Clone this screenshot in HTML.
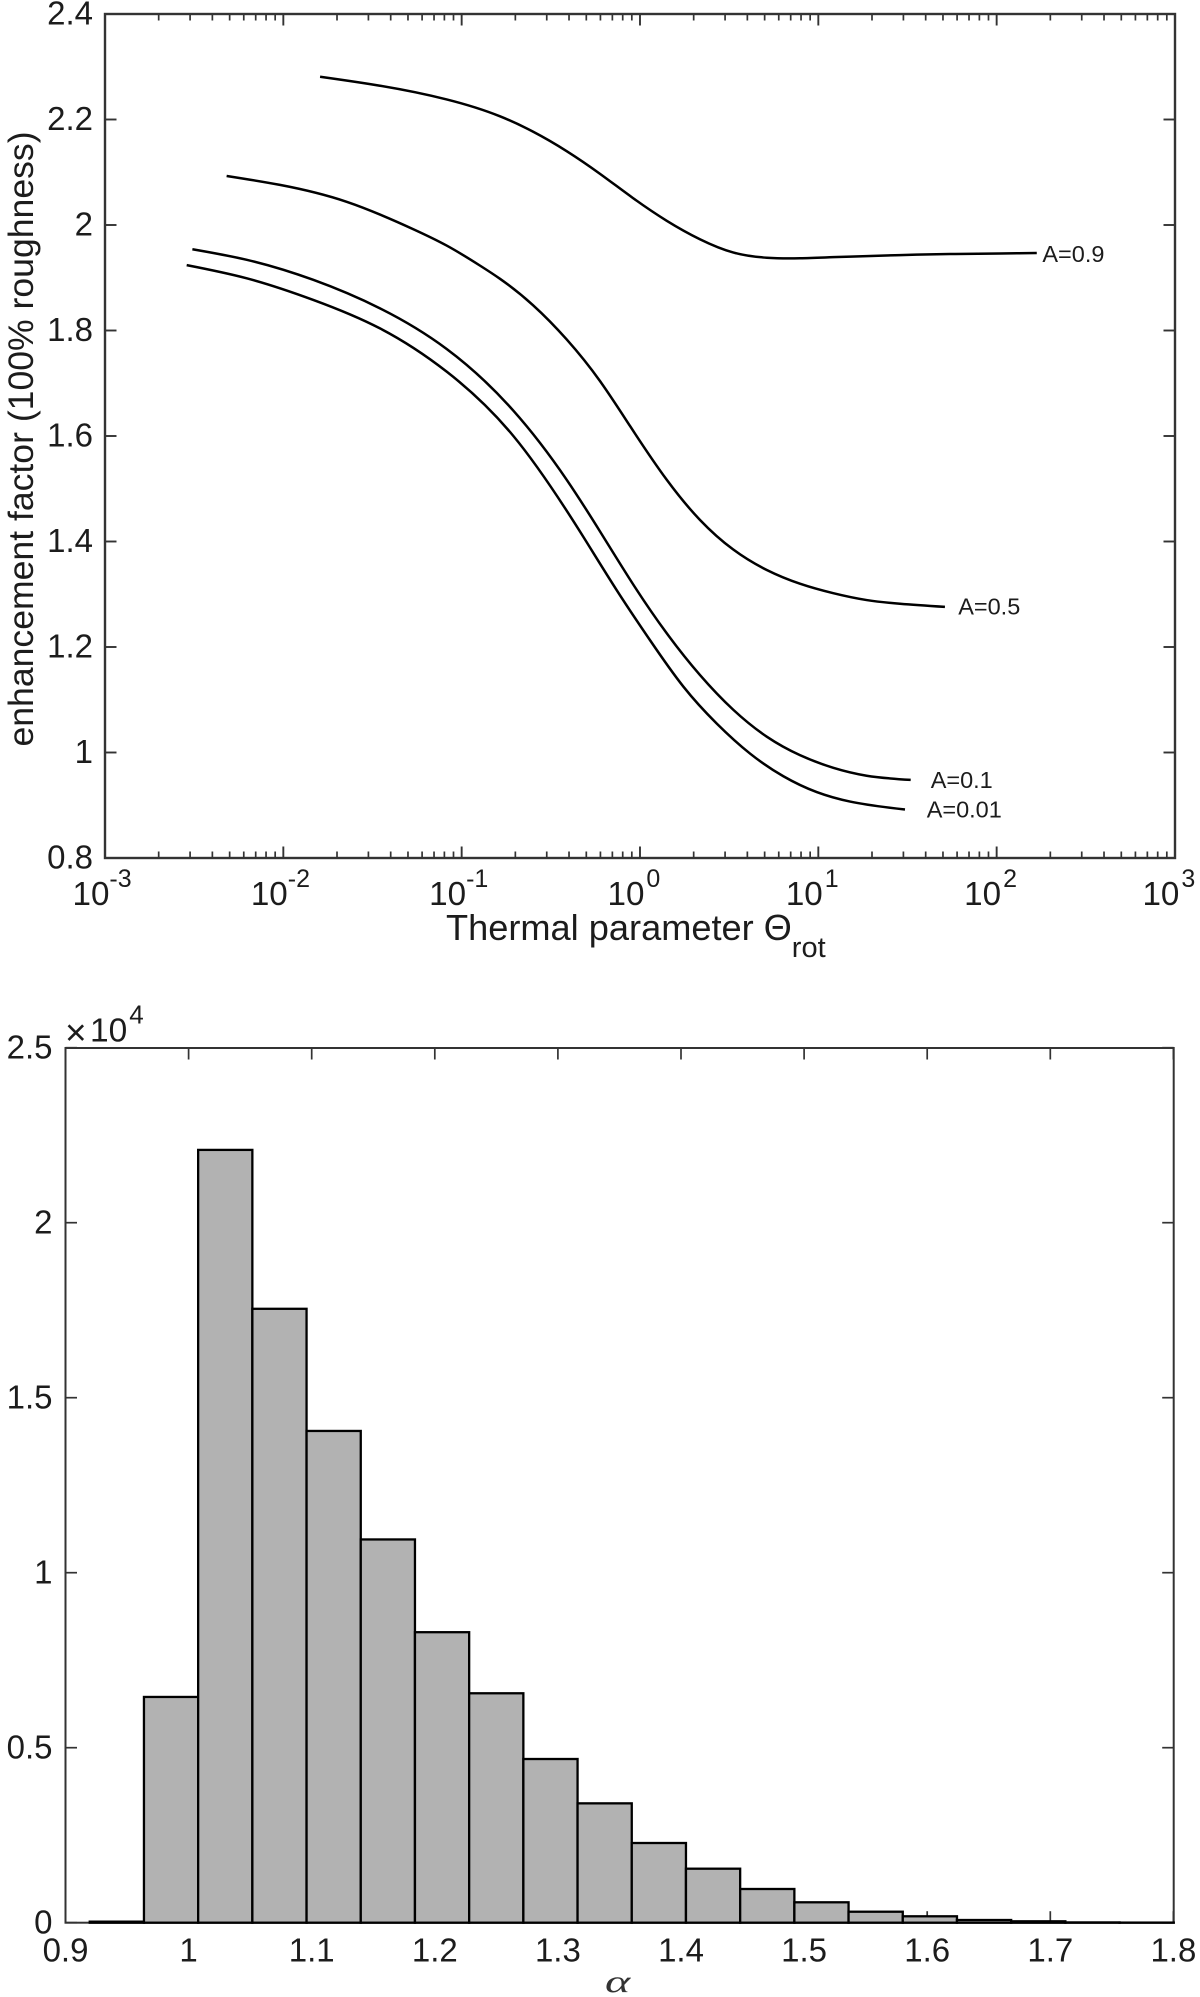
<!DOCTYPE html>
<html lang="en">
<head>
<meta charset="utf-8">
<title>Thermal parameter enhancement and alpha histogram</title>
<style>
html,body{margin:0;padding:0;background:#fff;width:1200px;height:1997px;overflow:hidden}
svg{display:block}
text{font-family:"Liberation Sans",sans-serif;fill:#1c1c1c}
</style>
</head>
<body>
<svg id="figure" xmlns="http://www.w3.org/2000/svg" width="1200" height="1997" viewBox="0 0 1200 1997">
  <rect x="0" y="0" width="1200" height="1997" fill="#fff"/>
  <g id="top-chart"></g>
  <g id="bottom-chart"></g>
  <text x="446" y="940" font-size="36.2">Thermal parameter <tspan font-size="36">Θ</tspan><tspan font-size="29" dy="17">rot</tspan></text>
  <text transform="translate(33,439) rotate(-90)" text-anchor="middle" font-size="35.6">enhancement factor (100% roughness)</text>
  <text x="65" y="1045" font-size="37">×</text>
  <text x="90" y="1041.7" font-size="33.5">10<tspan font-size="26" dy="-18" dx="2">4</tspan></text>
  <text transform="translate(605,1992) scale(1.5,1)" font-size="32" font-style="italic" style="font-family:'Liberation Serif',serif;fill:#333">α</text>
</svg>
<script>
// ---- Top chart data ----
var topXDecades = [-3, -2, -1, 0, 1, 2, 3];
var topYTicks = [0.8, 1, 1.2, 1.4, 1.6, 1.8, 2, 2.2, 2.4];
var topYLabels = ['0.8', '1', '1.2', '1.4', '1.6', '1.8', '2', '2.2', '2.4'];
var minorMultipliers = [2, 3, 4, 5, 6, 7, 8, 9];

var logThetaA09 = [-1.794, -1.458, -1.084, -0.785, -0.600, -0.411, -0.224, -0.039, 0.150, 0.336, 0.522, 0.711, 0.897, 1.082, 1.271, 1.458, 1.738, 2.019, 2.225];
var enhanceA09 = [2.281, 2.264, 2.238, 2.206, 2.177, 2.140, 2.097, 2.051, 2.008, 1.973, 1.948, 1.938, 1.937, 1.939, 1.941, 1.943, 1.945, 1.946, 1.947];

var logThetaA05 = [-2.318, -2.019, -1.645, -1.271, -1.084, -0.897, -0.785, -0.600, -0.411, -0.224, -0.056, 0.150, 0.336, 0.522, 0.711, 0.897, 1.084, 1.271, 1.458, 1.710];
var enhanceA05 = [2.093, 2.076, 2.044, 1.992, 1.961, 1.923, 1.898, 1.848, 1.783, 1.704, 1.619, 1.517, 1.441, 1.385, 1.346, 1.320, 1.302, 1.289, 1.282, 1.276];

var logThetaA01 = [-2.510, -2.205, -1.832, -1.458, -1.084, -0.710, -0.411, -0.224, -0.037, 0.150, 0.336, 0.523, 0.711, 0.897, 1.084, 1.271, 1.518];
var enhanceA01 = [1.954, 1.934, 1.896, 1.842, 1.765, 1.648, 1.517, 1.419, 1.318, 1.226, 1.147, 1.081, 1.030, 0.995, 0.971, 0.956, 0.948];

var logThetaA001 = [-2.542, -2.205, -1.832, -1.458, -1.084, -0.710, -0.318, -0.131, 0.056, 0.243, 0.430, 0.617, 0.804, 0.991, 1.178, 1.486];
var enhanceA001 = [1.924, 1.899, 1.858, 1.804, 1.722, 1.600, 1.409, 1.308, 1.213, 1.125, 1.055, 0.998, 0.955, 0.925, 0.907, 0.892];

// ---- Histogram data ----
var binStart = 0.9197;
var binWidth = 0.04403;
var binCounts = [30, 6450, 22080, 17540, 14050, 10950, 8300, 6555, 4677, 3410, 2277, 1543, 963, 583, 314, 183, 77, 40, 8, 3];
var histXTicks = [0.9, 1, 1.1, 1.2, 1.3, 1.4, 1.5, 1.6, 1.7, 1.8];
var histXLabels = ['0.9', '1', '1.1', '1.2', '1.3', '1.4', '1.5', '1.6', '1.7', '1.8'];
var histYTicks = [0, 5000, 10000, 15000, 20000, 25000];
var histYLabels = ['0', '0.5', '1', '1.5', '2', '2.5'];

// ---- Axis functions ----
function topX(logT) { return 105 + (logT + 3) * 178.33; }
function topY(v) { return 858 - (v - 0.8) * 527.5; }
function histX(a) { return 65.5 + (a - 0.9) * 1231; }
function histY(c) { return 1922.7 - c * 875 / 25000; }

var NS = 'http://www.w3.org/2000/svg';
var topG = document.getElementById('top-chart');
var botG = document.getElementById('bottom-chart');

function make(tag, parent, attrs) {
  var el = document.createElementNS(NS, tag);
  for (var k in attrs) el.setAttribute(k, attrs[k]);
  parent.appendChild(el);
  return el;
}

// Natural cubic spline through the points, emitted as Bezier segments.
function smoothPath(xs, ys) {
  var n = xs.length, M = new Array(n).fill(0), c = new Array(n).fill(0), d = new Array(n).fill(0);
  for (var i = 1; i < n - 1; i++) {
    var h0 = xs[i] - xs[i - 1], h1 = xs[i + 1] - xs[i];
    var a = h0, b = 2 * (h0 + h1);
    var r = 6 * ((ys[i + 1] - ys[i]) / h1 - (ys[i] - ys[i - 1]) / h0);
    var den = b - a * c[i - 1];
    c[i] = h1 / den;
    d[i] = (r - a * d[i - 1]) / den;
  }
  for (var j = n - 2; j > 0; j--) M[j] = d[j] - c[j] * M[j + 1];
  var path = 'M' + xs[0].toFixed(2) + ' ' + ys[0].toFixed(2);
  for (var s = 0; s < n - 1; s++) {
    var h = xs[s + 1] - xs[s], sl = (ys[s + 1] - ys[s]) / h;
    var m0 = sl - h * (2 * M[s] + M[s + 1]) / 6;
    var m1 = sl + h * (M[s] + 2 * M[s + 1]) / 6;
    path += 'C' + (xs[s] + h / 3).toFixed(2) + ' ' + (ys[s] + m0 * h / 3).toFixed(2) + ' ' +
      (xs[s + 1] - h / 3).toFixed(2) + ' ' + (ys[s + 1] - m1 * h / 3).toFixed(2) + ' ' +
      xs[s + 1].toFixed(2) + ' ' + ys[s + 1].toFixed(2);
  }
  return path;
}

// ---- Top chart: ticks ----
var AX = '#333';
topXDecades.forEach(function (dec, i) {
  var x = topX(dec);
  var tb = make('line', topG, {x1: x, x2: x, y1: 858, y2: 846.5, stroke: AX, 'stroke-width': 1.9});
  
  
  var tt = make('line', topG, {x1: x, x2: x, y1: 14, y2: 25.5, stroke: AX, 'stroke-width': 1.9});
  
  
  var label = make('text', topG, {x: x - 32.5, y: 904.8, 'font-size': 33.2});
  
  
  label.appendChild(document.createTextNode('10'));
  var exp = make('tspan', label, {'font-size': 25, dy: -18, dx: dec < 0 ? 0 : 2});
  
  
  exp.textContent = String(dec);
  if (i < topXDecades.length - 1) {
    minorMultipliers.forEach(function (m) {
      var mx = topX(dec + Math.log10(m));
      var mb = make('line', topG, {x1: mx, x2: mx, y1: 858, y2: 851.5, stroke: AX, 'stroke-width': 1.7});
      
      
      var mt = make('line', topG, {x1: mx, x2: mx, y1: 14, y2: 20.5, stroke: AX, 'stroke-width': 1.7});
      
      
    });
  }
});
topYTicks.forEach(function (v, i) {
  var y = topY(v);
  var tl = make('line', topG, {x1: 105, x2: 116.5, y1: y, y2: y, stroke: AX, 'stroke-width': 1.9});
  
  
  var tr = make('line', topG, {x1: 1175, x2: 1163.5, y1: y, y2: y, stroke: AX, 'stroke-width': 1.9});
  
  
  var label = make('text', topG, {x: 93, y: y + 10.5, 'font-size': 33, 'text-anchor': 'end'});
  
  
  label.textContent = topYLabels[i];
});
var topFrame = make('rect', topG, {x: 105, y: 14, width: 1070, height: 844, fill: 'none', stroke: AX, 'stroke-width': 2.4});



// ---- Top chart: curves ----
function drawCurve(logs, vals) {
  var path = make('path', topG, {d: smoothPath(logs.map(topX), vals.map(topY)), fill: 'none', stroke: '#000', 'stroke-width': 2.5});
  return path;
}
function endLabel(logs, vals, text, dx, dy) {
  var last = logs.length - 1;
  var t = make('text', topG, {x: topX(logs[last]) + dx, y: topY(vals[last]) + dy, 'font-size': 23.5});
  t.textContent = text;
  return t;
}
var curve09 = drawCurve(logThetaA09, enhanceA09);


var curve05 = drawCurve(logThetaA05, enhanceA05);


var curve01 = drawCurve(logThetaA01, enhanceA01);


var curve001 = drawCurve(logThetaA001, enhanceA001);


var label09 = endLabel(logThetaA09, enhanceA09, 'A=0.9', 5.6, 9);


var label05 = endLabel(logThetaA05, enhanceA05, 'A=0.5', 13.3, 7.6);


var label01 = endLabel(logThetaA01, enhanceA01, 'A=0.1', 20, 8);


var label001 = endLabel(logThetaA001, enhanceA001, 'A=0.01', 21.7, 8);



// ---- Histogram: ticks and frame first, bars over them ----
histXTicks.forEach(function (v, i) {
  var x = histX(v);
  var tb = make('line', botG, {x1: x, x2: x, y1: 1922.7, y2: 1911.2, stroke: AX, 'stroke-width': 1.7});
  
  
  var tt = make('line', botG, {x1: x, x2: x, y1: 1048, y2: 1059.5, stroke: AX, 'stroke-width': 1.7});
  
  
  var label = make('text', botG, {x: x, y: 1961.7, 'font-size': 33, 'text-anchor': 'middle'});
  
  
  label.textContent = histXLabels[i];
});
histYTicks.forEach(function (v, i) {
  var y = histY(v);
  var tl = make('line', botG, {x1: 65.5, x2: 77, y1: y, y2: y, stroke: AX, 'stroke-width': 1.7});
  
  
  var tr = make('line', botG, {x1: 1173.7, x2: 1162.2, y1: y, y2: y, stroke: AX, 'stroke-width': 1.7});
  
  
  var label = make('text', botG, {x: 52.5, y: y + 10.7, 'font-size': 33, 'text-anchor': 'end'});
  
  
  label.textContent = histYLabels[i];
});
var botFrame = make('rect', botG, {x: 65.5, y: 1048, width: 1108.2, height: 874.7, fill: 'none', stroke: AX, 'stroke-width': 2});



binCounts.forEach(function (c, i) {
  var x0 = histX(binStart + i * binWidth);
  var x1 = histX(binStart + (i + 1) * binWidth);
  var y = histY(c);
  var bar = make('rect', botG, {x: x0, y: y, width: x1 - x0, height: histY(0) - y, fill: '#b2b2b2', stroke: '#000', 'stroke-width': 2.3});
  
  
});
</script>
</body>
</html>
